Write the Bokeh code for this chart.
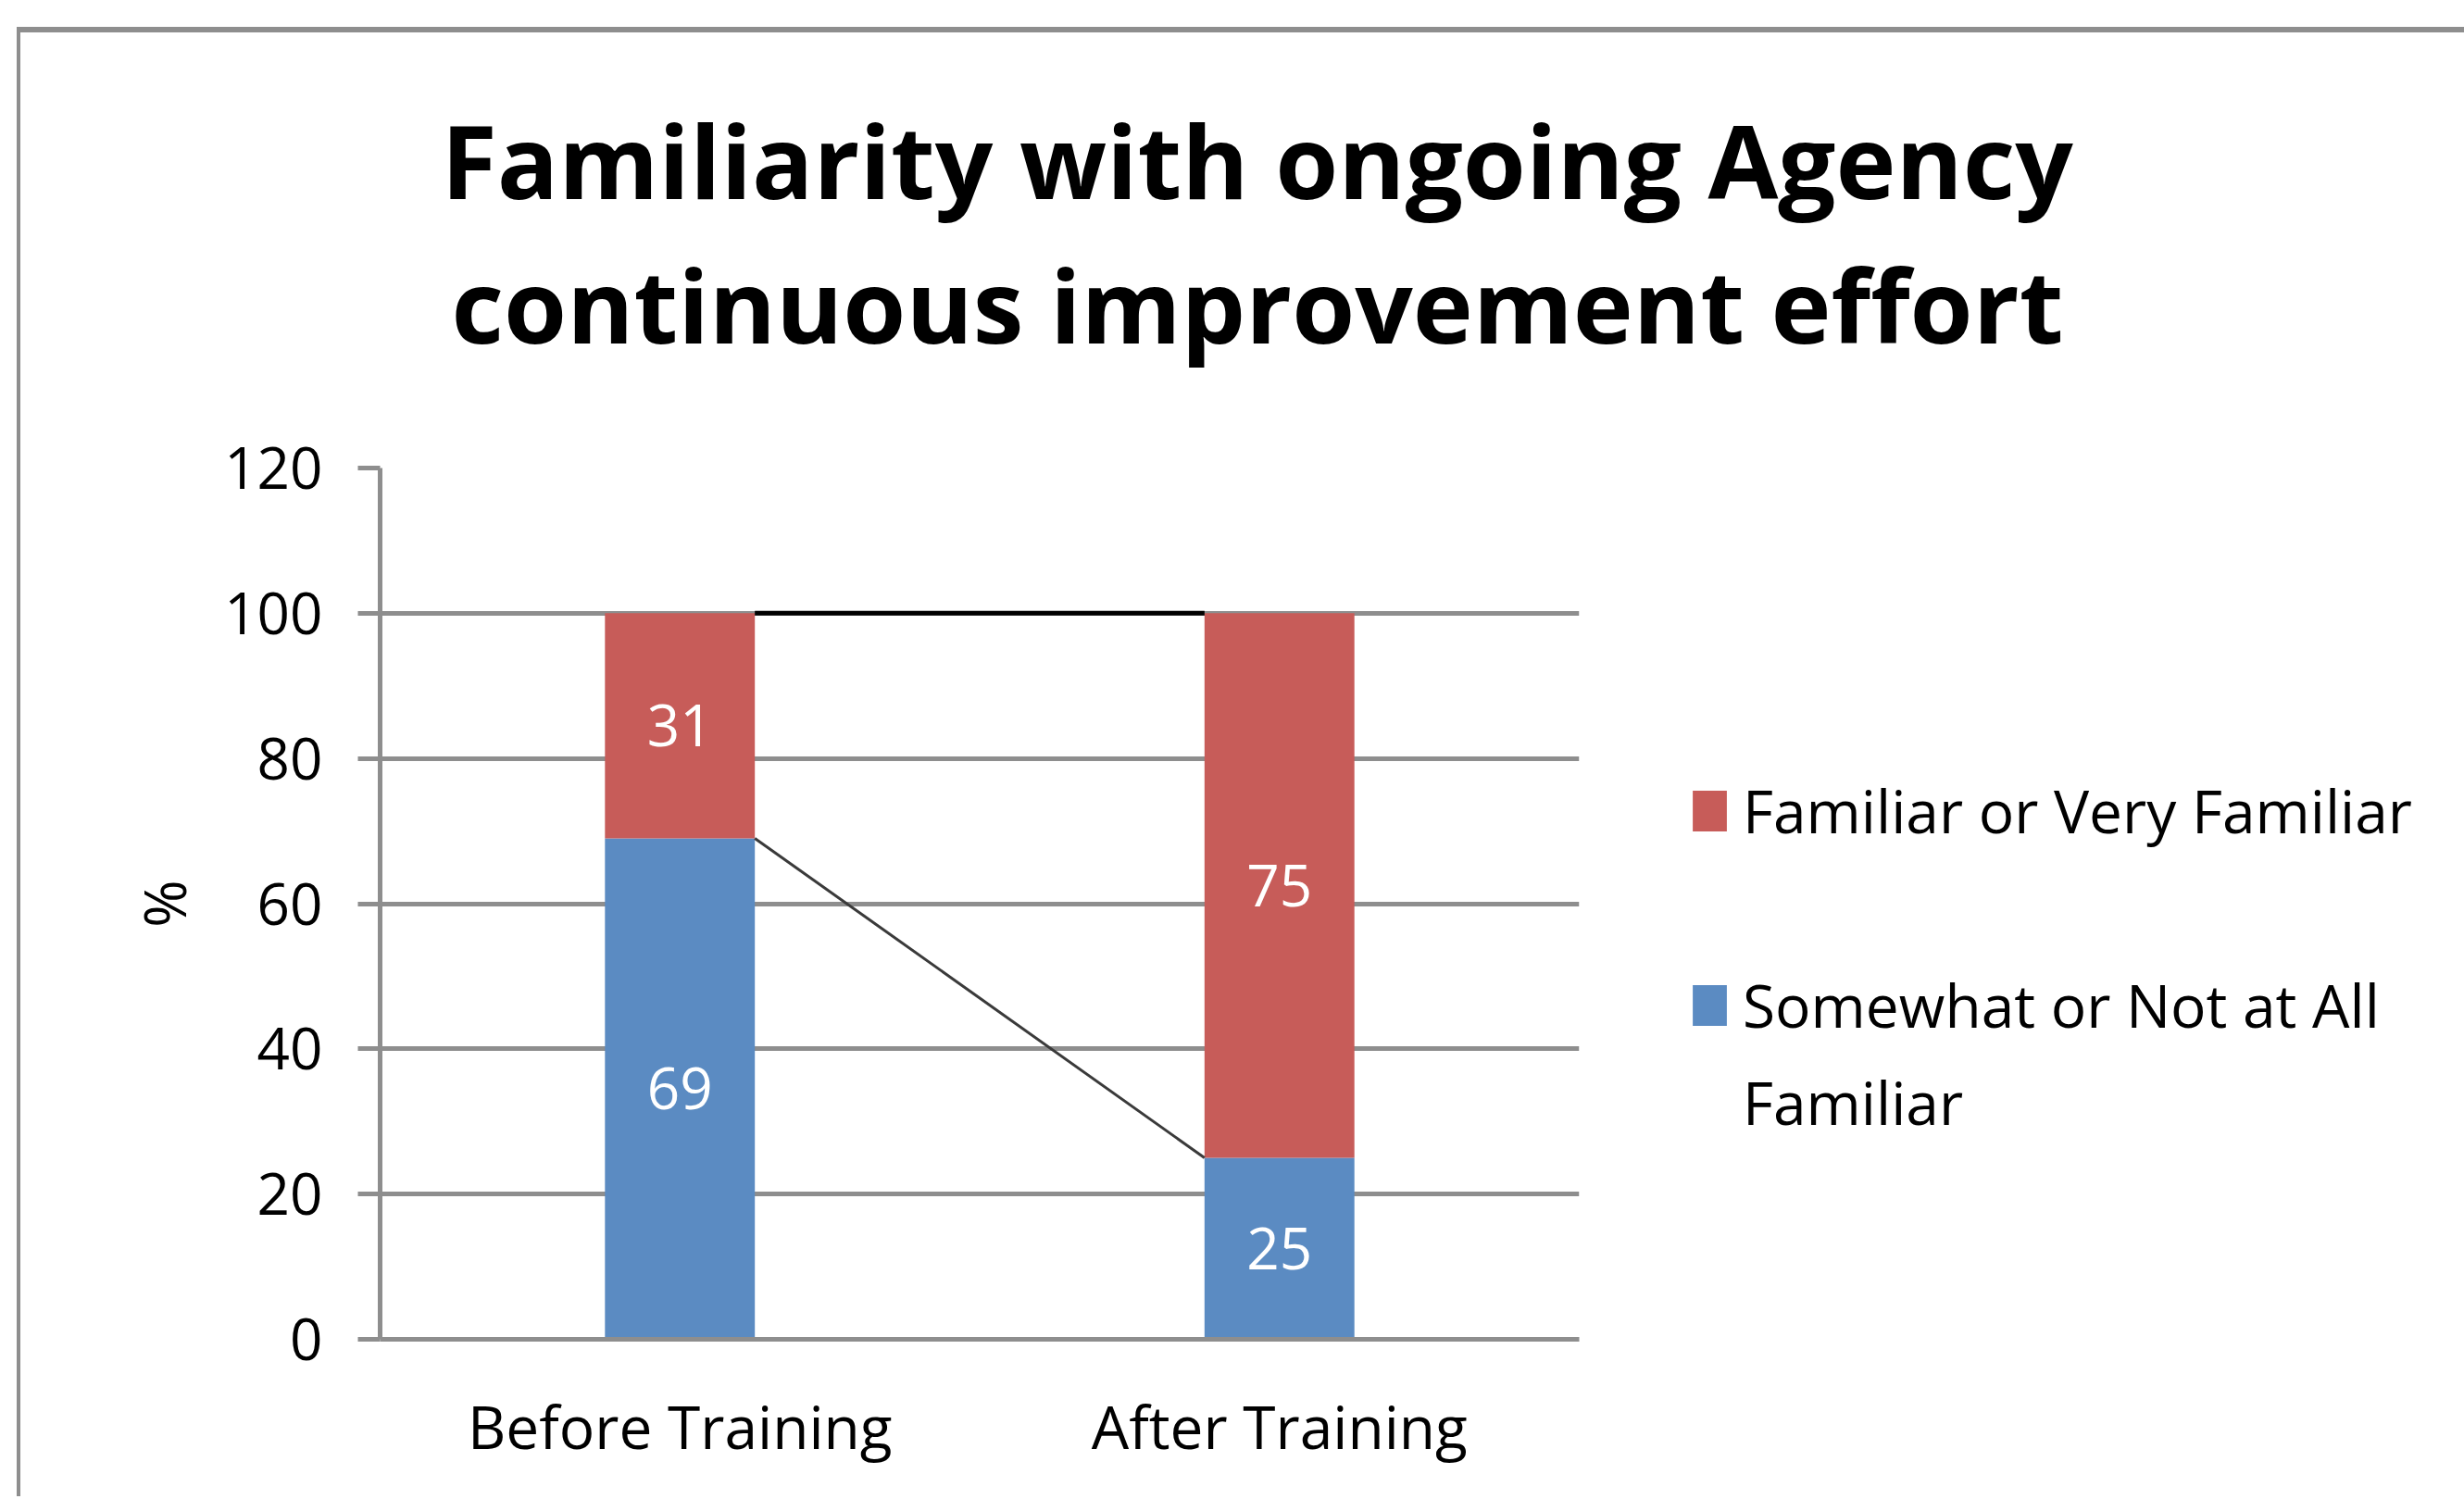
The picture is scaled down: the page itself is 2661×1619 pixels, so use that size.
from bokeh.plotting import figure
from bokeh.models import (ColumnDataSource, FactorRange, Range1d, Legend, LegendItem,
                          Title, FixedTicker)
from bokeh.transform import dodge
from bokeh.core.properties import value
from bokeh.embed import file_html
from bokeh.resources import INLINE

# ---- data ----
categories = ["Before Training", "After Training"]
somewhat = [69, 25]
familiar = [31, 75]
legend_familiar = "Familiar or Very Familiar"
legend_somewhat_lines = ["Somewhat or Not at All", "Familiar"]
title_lines = ["Familiarity with ongoing Agency", "continuous improvement effort"]
y_ticks = [0, 20, 40, 60, 80, 100, 120]
y_label = "%"

RED = "#C75C59"
BLUE = "#5B8BC2"
GRID = "#8E8E8E"
FONT = "Open Sans"

source = ColumnDataSource(dict(x=categories, somewhat=somewhat, familiar=familiar))

p = figure(x_range=FactorRange(factors=categories), y_range=Range1d(0, 120),
           frame_width=1295, frame_height=941,
           min_border_left=388, min_border_right=950,
           min_border_top=470, min_border_bottom=170,
           title=None, output_backend="svg", toolbar_location=None,
           margin=(29, 0, 0, 18),
           styles={"border-left": "4px solid #8E8E8E", "border-top": "6px solid #8E8E8E"})
p.background_fill_color = "white"
p.border_fill_color = "white"
p.outline_line_color = None

bars = p.vbar_stack(["somewhat", "familiar"], x="x", width=0.25, color=[BLUE, RED],
                    source=source, line_width=0)

# series lines
tops = [a + b for a, b in zip(somewhat, familiar)]
seg = ColumnDataSource(dict(x0=[categories[0]] * 2, x1=[categories[1]] * 2,
                            y0=[somewhat[0], tops[0]], y1=[somewhat[1], tops[1]],
                            c=["#3a3a3a", "#000000"], w=[3, 5]))
p.segment(x0=dodge("x0", 0.125, range=p.x_range), y0="y0",
          x1=dodge("x1", -0.125, range=p.x_range), y1="y1",
          line_color="c", line_width="w", source=seg)

# data labels
lab = ColumnDataSource(dict(
    x=categories * 2,
    y=[s / 2 for s in somewhat] + [s + f / 2 for s, f in zip(somewhat, familiar)],
    t=[str(v) for v in somewhat] + [str(v) for v in familiar]))
p.text(x="x", y="y", text="t", source=lab, text_color="white",
       text_font=value(FONT), text_font_size="62px",
       text_align="center", text_baseline="middle")

# axes
p.yaxis.ticker = FixedTicker(ticks=y_ticks)
p.ygrid.ticker = FixedTicker(ticks=y_ticks)
p.xgrid.grid_line_color = None
p.ygrid.grid_line_color = GRID
p.ygrid.grid_line_width = 5

p.yaxis.axis_line_color = GRID
p.yaxis.axis_line_width = 5
p.yaxis.major_tick_line_color = GRID
p.yaxis.major_tick_line_width = 5
p.yaxis.major_tick_out = 24
p.yaxis.major_tick_in = 0
p.yaxis.minor_tick_out = 0
p.yaxis.minor_tick_in = 0
p.yaxis.major_label_standoff = 38
p.yaxis.major_label_text_font = FONT
p.yaxis.major_label_text_font_size = "62px"
p.yaxis.major_label_text_color = "black"
p.yaxis.axis_label = y_label
p.yaxis.axis_label_text_font = FONT
p.yaxis.axis_label_text_font_size = "62px"
p.yaxis.axis_label_text_font_style = "normal"
p.yaxis.axis_label_text_color = "black"
p.yaxis.axis_label_standoff = 20

p.xaxis.axis_line_color = GRID
p.xaxis.axis_line_width = 5
p.xaxis.major_tick_out = 0
p.xaxis.major_tick_in = 0
p.xaxis.major_label_standoff = 50
p.xaxis.major_label_text_font = FONT
p.xaxis.major_label_text_font_size = "64px"
p.xaxis.major_label_text_color = "black"

# legend: second entry wraps onto two lines; an invisible gap entry sets the spacing
ghost = p.scatter(x=[], y=[], fill_alpha=0, line_alpha=0)
legend = Legend(items=[LegendItem(label=legend_familiar, renderers=[bars[1]]),
                       LegendItem(label="\u00a0", renderers=[ghost]),
                       LegendItem(label=legend_somewhat_lines[0], renderers=[bars[0]]),
                       LegendItem(label=legend_somewhat_lines[1], renderers=[ghost])],
                location=(118, 212), orientation="vertical", spacing=18,
                glyph_width=46, glyph_height=55, label_standoff=13,
                padding=0, margin=0, border_line_alpha=0, background_fill_alpha=0,
                label_text_font=FONT, label_text_font_size="64px",
                label_text_color="black")
p.add_layout(legend, "right")

# title (two lines) with a spacer next to the plot area
spacer = Title(text=" ", text_font_size="10px", standoff=90)
p.add_layout(spacer, "above")
t2 = Title(text=title_lines[1], align="left", offset=77, text_font=FONT,
           text_font_size="110px", text_font_style="bold", text_color="black", standoff=0)
p.add_layout(t2, "above")
t1 = Title(text=title_lines[0], align="left", offset=66, text_font=FONT,
           text_font_size="110px", text_font_style="bold", text_color="black", standoff=8)
p.add_layout(t1, "above")

open("out.html", "w").write(file_html(p, INLINE))
